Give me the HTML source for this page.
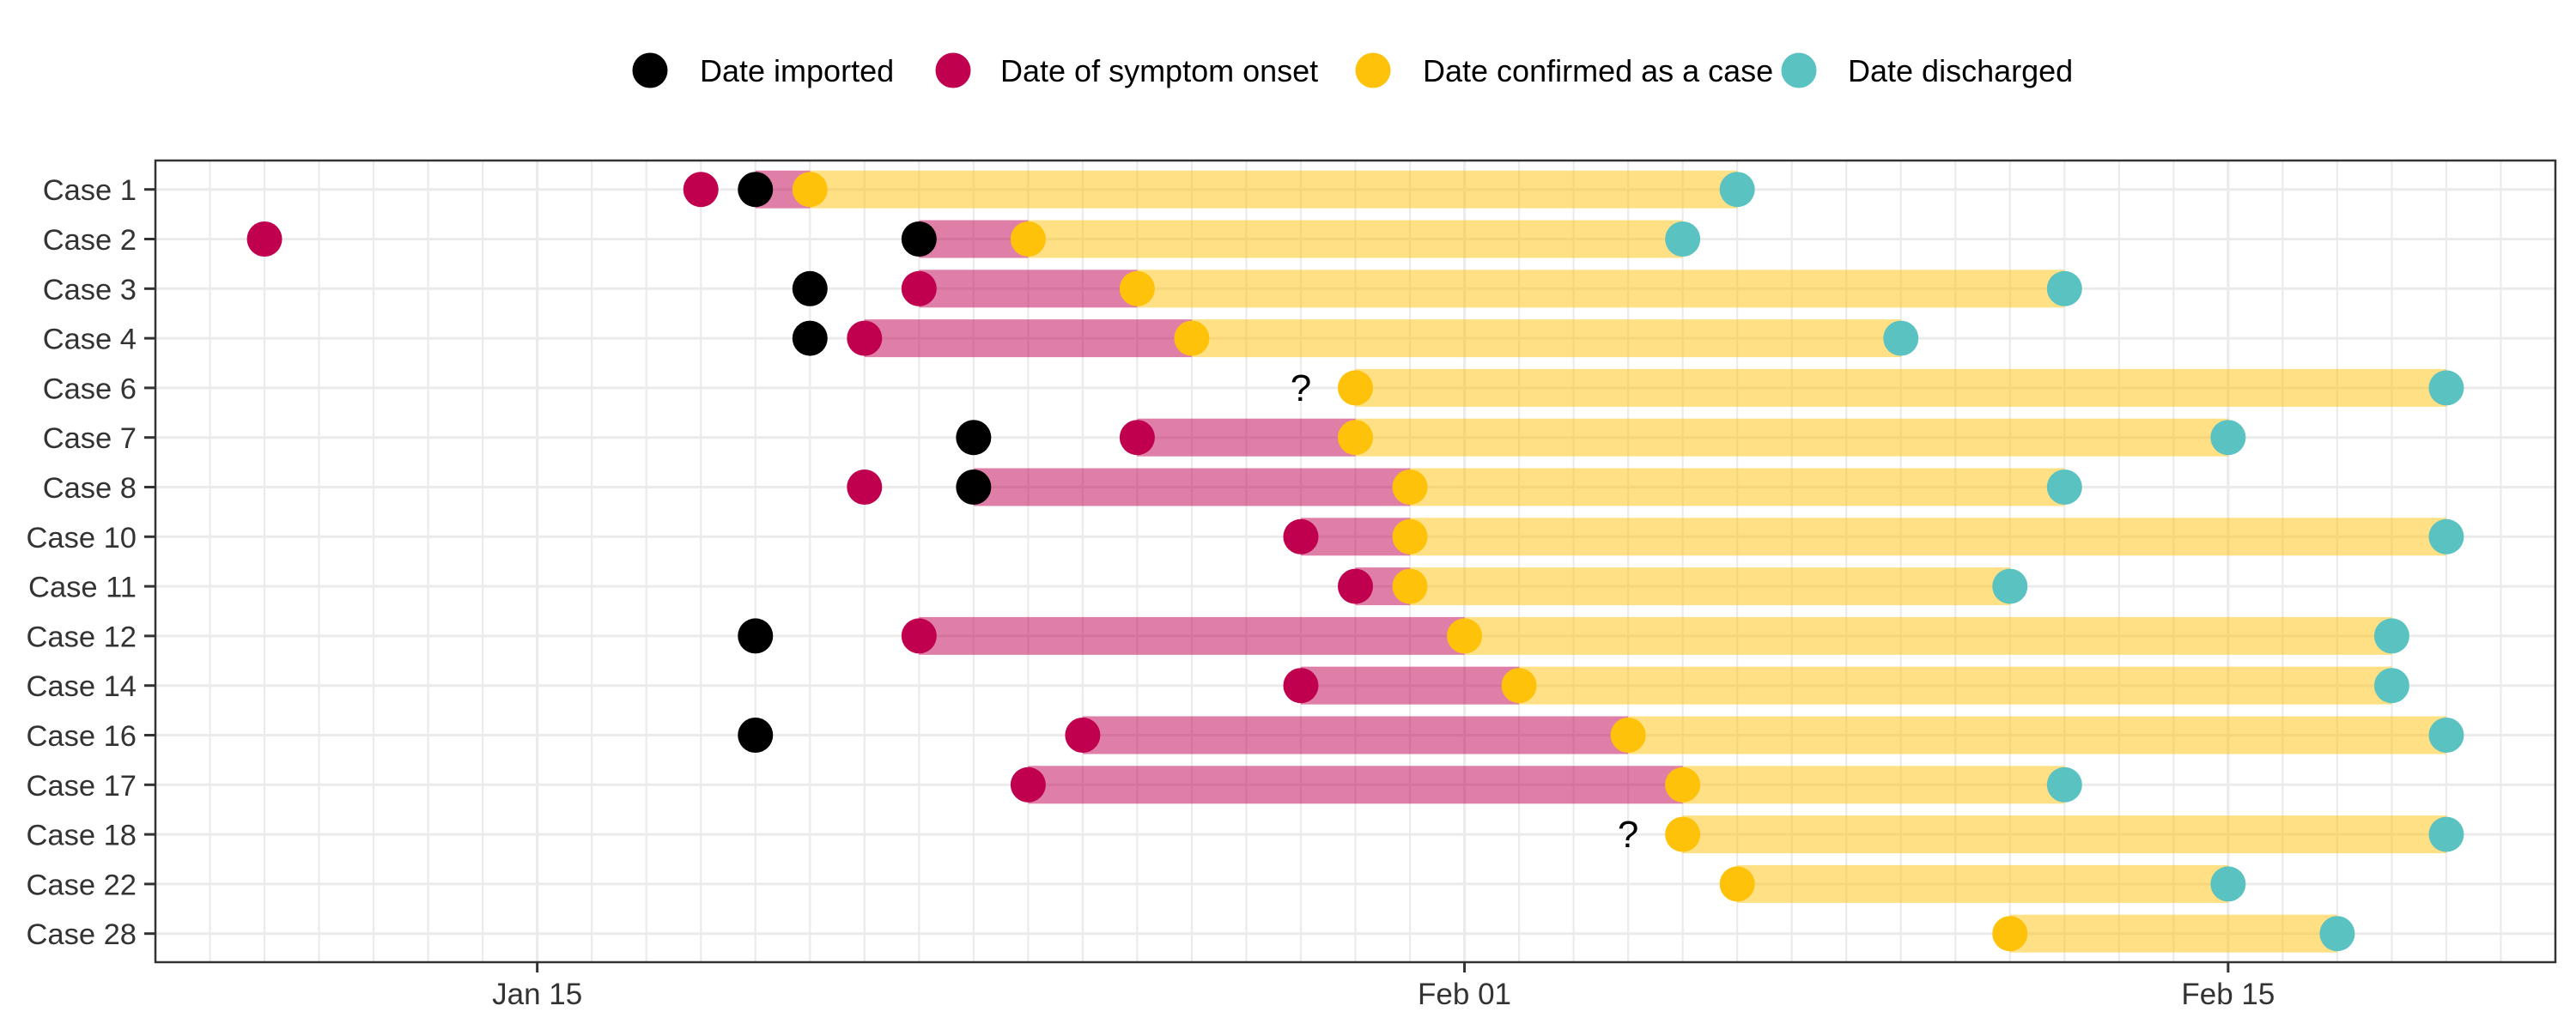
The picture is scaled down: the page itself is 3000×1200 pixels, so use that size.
<!DOCTYPE html>
<html><head><meta charset="utf-8"><style>
html,body{margin:0;padding:0;background:#fff;}
svg{display:block;font-family:"Liberation Sans",Arial,sans-serif;}
</style></head><body>
<svg id="chart" width="3000" height="1200" viewBox="0 0 3000 1200" xmlns="http://www.w3.org/2000/svg">
<g id="legend">
  <g><circle cx="757" cy="82" r="20.5" fill="#000"/><text x="815" y="95" font-size="36" fill="#000">Date imported</text></g>
  <g><circle cx="1110" cy="82" r="20.5" fill="#C0004F"/><text x="1165" y="95" font-size="36" fill="#000">Date of symptom onset</text></g>
  <g><circle cx="1599" cy="82" r="20.5" fill="#FFC20A"/><text x="1657" y="95" font-size="36" fill="#000">Date confirmed as a case</text></g>
  <g><circle cx="2095" cy="82" r="20.5" fill="#5BC2C2"/><text x="2152" y="95" font-size="36" fill="#000">Date discharged</text></g>
</g>
<g id="grid"></g>
<g id="bars"></g>
<g id="points"></g>
<g id="axes"></g>
</svg>
<script>
// Days counted from Jan 1 (Jan n = n, Feb n = 31 + n)
const cases = ["Case 1","Case 2","Case 3","Case 4","Case 6","Case 7","Case 8","Case 10","Case 11","Case 12","Case 14","Case 16","Case 17","Case 18","Case 22","Case 28"];
const imported   = [19,22,20,20,null,23,23,null,null,19,null,19,null,null,null,null];
const onset      = [18,10,22,21,null,26,21,29,30,22,29,25,24,null,null,null];
const confirmed  = [20,24,26,27,30,30,31,31,31,32,33,35,36,36,37,42];
const discharged = [37,36,43,40,50,46,43,50,42,49,49,50,43,50,46,48];
const unknownOnset = [null,null,null,null,29,null,null,null,null,null,null,null,null,35,null,null];
const tickDays = [15,32,46];
const tickLabels = ["Jan 15","Feb 01","Feb 15"];
const domainStart = 8, domainEnd = 52;

const NS="http://www.w3.org/2000/svg";
const L=181, R=2976, T=187, B=1121;
const x = d => L + (d-domainStart)*(R-L)/(domainEnd-domainStart);
const y = i => 220.7 + i*57.8;
function mk(tag, attrs, parent){const e=document.createElementNS(NS,tag);for(const k in attrs)e.setAttribute(k,attrs[k]);parent.appendChild(e);return e;}
const grid=document.getElementById('grid'), bars=document.getElementById('bars'), pts=document.getElementById('points'), axes=document.getElementById('axes');

for(let d=domainStart+1; d<domainEnd; d++){
  const major = tickDays.includes(d);
  const gl = mk('line',{x1:x(d),x2:x(d),y1:T,y2:B,stroke:'#ebebeb','stroke-width':major?3.2:2.2},grid);
  
  
}
cases.forEach((c,i)=>{
  const gl = mk('line',{x1:L,x2:R,y1:y(i),y2:y(i),stroke:'#ebebeb','stroke-width':3},grid);
  
  
});

cases.forEach((c,i)=>{
  const starts=[imported[i],onset[i]].filter(v=>v!==null);
  if(starts.length){
    const s=Math.max(...starts);
    if(s<confirmed[i]){
      const b=mk('rect',{x:x(s),y:y(i)-22,width:x(confirmed[i])-x(s),height:44,fill:'#C0004F','fill-opacity':0.5},bars);
      
      
    }
  }
  const yb=mk('rect',{x:x(confirmed[i]),y:y(i)-22,width:x(discharged[i])-x(confirmed[i]),height:44,fill:'#FFC20A','fill-opacity':0.5},bars);
  
  
});

const series=[[imported,'#000','imported-point'],[onset,'#C0004F','onset-point'],[confirmed,'#FFC20A','confirmed-point'],[discharged,'#5BC2C2','discharged-point']];
series.forEach(([arr,col,name])=>{
  arr.forEach((v,i)=>{
    if(v===null)return;
    const p=mk('circle',{cx:x(v),cy:y(i),r:20.5,fill:col},pts);
    
    
  });
});
unknownOnset.forEach((v,i)=>{
  if(v===null)return;
  const t=mk('text',{x:x(v),y:y(i)+15,'font-size':44,'text-anchor':'middle',fill:'#000'},pts);
  t.textContent='?';
  
  
});

const frame=mk('rect',{x:L,y:T,width:R-L,height:B-T,fill:'none',stroke:'#333','stroke-width':2.5},axes);


cases.forEach((c,i)=>{
  const tk=mk('line',{x1:168,x2:L,y1:y(i),y2:y(i),stroke:'#333','stroke-width':3},axes);
  
  
  const t=mk('text',{x:159,y:y(i)+12.5,'font-size':34.5,'text-anchor':'end',fill:'#333'},axes);
  t.textContent=c;
  
  
});
tickDays.forEach((d,k)=>{
  const tk=mk('line',{x1:x(d),x2:x(d),y1:B,y2:B+12,stroke:'#333','stroke-width':3},axes);
  
  
  const t=mk('text',{x:x(d),y:1170,'font-size':35,'text-anchor':'middle',fill:'#333'},axes);
  t.textContent=tickLabels[k];
  
  
});
</script>
</body></html>
